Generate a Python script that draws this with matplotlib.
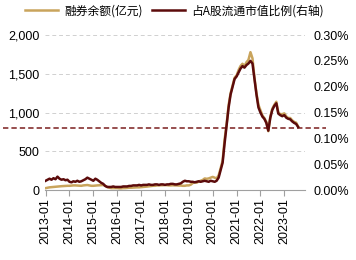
import numpy as np
import pandas as pd
import matplotlib.pyplot as plt
import matplotlib.dates as mdates
from matplotlib.ticker import FuncFormatter

plt.rcParams['font.family'] = ['Liberation Sans', 'Noto Sans CJK SC', 'DejaVu Sans']

# monthly, 2013-01 .. 2023-08
balance = [
    25, 30, 35, 38, 40, 42, 45, 48, 50, 52, 55, 55,
    55, 58, 60, 60, 58, 55, 55, 60, 62, 65, 60, 55,
    55, 58, 60, 62, 65, 65, 55, 40, 30, 25, 25, 25,
    25, 22, 22, 25, 25, 28, 30, 30, 32, 35, 35, 35,
    38, 40, 42, 45, 48, 50, 55, 55, 60, 60, 62, 62,
    65, 62, 60, 60, 62, 60, 60, 58, 58, 55, 55, 60,
    60, 70, 90, 100, 95, 110, 120, 130, 150, 145, 150, 160,
    170, 160, 150, 190, 280, 380, 650, 850, 1100, 1250, 1350, 1450,
    1480, 1550, 1600, 1630, 1600, 1650, 1680, 1780, 1700, 1450, 1250, 1100,
    1030, 960, 930, 880, 760, 950, 1050, 1100, 1140, 1000, 980, 980,
    990, 950, 930, 930, 900, 880, 870, 820,
]
ratio = [
    0.018, 0.020, 0.022, 0.020, 0.023, 0.021, 0.026, 0.022, 0.020, 0.021, 0.019, 0.020,
    0.016, 0.015, 0.017, 0.016, 0.018, 0.016, 0.017, 0.019, 0.021, 0.024, 0.022, 0.020,
    0.018, 0.022, 0.020, 0.017, 0.014, 0.012, 0.008, 0.006, 0.006, 0.006, 0.007, 0.006,
    0.006, 0.006, 0.006, 0.007, 0.007, 0.007, 0.008, 0.008, 0.009, 0.009, 0.009, 0.010,
    0.009, 0.010, 0.010, 0.010, 0.011, 0.010, 0.010, 0.011, 0.011, 0.010, 0.011, 0.011,
    0.010, 0.011, 0.011, 0.012, 0.012, 0.011, 0.011, 0.012, 0.013, 0.016, 0.018, 0.017,
    0.017, 0.016, 0.016, 0.015, 0.016, 0.017, 0.016, 0.017, 0.018, 0.017, 0.016, 0.018,
    0.017, 0.016, 0.018, 0.024, 0.038, 0.053, 0.090, 0.125, 0.160, 0.185, 0.200, 0.215,
    0.220, 0.228, 0.235, 0.240, 0.237, 0.242, 0.245, 0.250, 0.245, 0.215, 0.185, 0.160,
    0.150, 0.142, 0.138, 0.130, 0.115, 0.140, 0.155, 0.163, 0.168, 0.148, 0.145, 0.143,
    0.145, 0.140, 0.138, 0.137, 0.133, 0.130, 0.128, 0.122,
]
ref_level = 800
tick_years = list(range(2013, 2024))

dates = pd.date_range("2013-01-01", periods=len(balance), freq="MS")

gold = "#C9A45C"
maroon = "#5C0B0B"

fig = plt.figure(figsize=(3.56, 2.6), dpi=100)
ax = fig.add_axes([0.126, 0.269, 0.731, 0.596])
ax2 = ax.twinx()

l1, = ax.plot(dates, balance, color=gold, lw=1.8)
l2, = ax2.plot(dates, ratio, color=maroon, lw=1.8)

ax.set_ylim(0, 2000)
ax2.set_ylim(0, 0.30)
ax.set_xlim(pd.Timestamp("2012-12-20"), pd.Timestamp("2023-11-15"))

ax.set_yticks([0, 500, 1000, 1500, 2000])
ax.yaxis.set_major_formatter(FuncFormatter(lambda v, p: f"{v:,.0f}"))
ax2.set_yticks(np.arange(0, 0.31, 0.05))
ax2.yaxis.set_major_formatter(FuncFormatter(lambda v, p: f"{v:.2f}%"))

for y in [500, 1000, 1500, 2000]:
    ax.axhline(y, color="#d0d0d0", lw=0.7, ls=(0, (4, 3)), zorder=0)

ax.axhline(ref_level, xmin=-0.16, xmax=1.08, color="#7B1E1E", lw=1.1,
           ls=(0, (3.5, 2)), clip_on=False, zorder=5)

ax.set_xticks([pd.Timestamp(f"{y}-01-01") for y in tick_years])
ax.xaxis.set_major_formatter(mdates.DateFormatter("%Y-%m"))
plt.setp(ax.get_xticklabels(), rotation=90)

for a in (ax, ax2):
    for s in ("top", "left", "right"):
        a.spines[s].set_visible(False)
    a.spines["bottom"].set_color("#a0a0a0")
ax2.spines["bottom"].set_visible(False)

ax.tick_params(axis="y", length=0, labelsize=9, pad=4)
ax2.tick_params(axis="y", length=0, labelsize=9, pad=6)
ax.tick_params(axis="x", length=4, color="#a0a0a0", labelsize=9, pad=2)

fig.legend([l1, l2], ["融券余额(亿元)", "占A股流通市值比例(右轴)"],
           loc="upper center", bbox_to_anchor=(0.49, 1.025), ncol=2, frameon=False,
           handlelength=2.8, columnspacing=0.8, handletextpad=0.5,
           prop={"family": ["Noto Sans CJK SC"], "size": 8.5})

fig.savefig("out.png", dpi=100)
